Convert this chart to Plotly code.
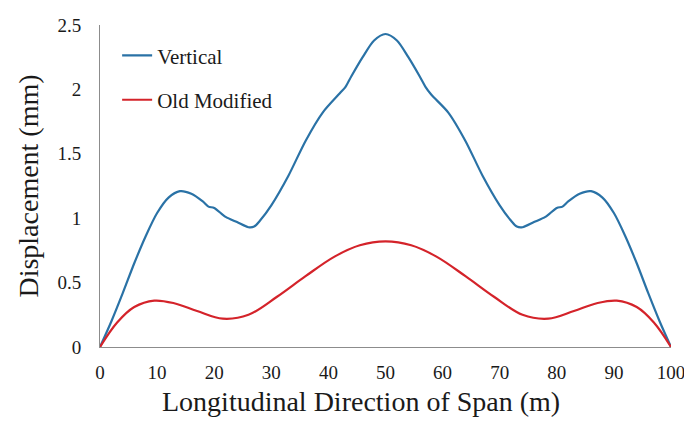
import plotly.graph_objects as go

_BLUE = "#2a72a6"
_RED = "#d4232a"
_AXIS = "#8c8c8c"
_TEXT = "#1a1a1a"
_FONT = "Times New Roman, Liberation Serif, DejaVu Serif, serif"

span = [0, 2, 4, 6, 8, 10, 12, 14, 16, 18, 19, 20, 22, 24, 26, 27, 28, 30, 33, 36, 39, 42, 43,
        44, 46, 48, 50, 52, 54, 56, 57, 58, 61, 64, 67, 70, 72, 73, 74, 76, 78, 80, 81, 82, 84,
        86, 88, 90, 92, 94, 96, 98, 100]
vertical = [0, 0.2, 0.42, 0.65, 0.86, 1.04, 1.16, 1.21, 1.19, 1.13, 1.09, 1.08, 1.01, 0.97, 0.93, 0.935,
            0.98, 1.1, 1.33, 1.6, 1.82, 1.97, 2.02, 2.1, 2.25, 2.38, 2.43, 2.38, 2.25, 2.1,
            2.02, 1.96, 1.82, 1.6, 1.33, 1.1, 0.98, 0.935, 0.93, 0.97, 1.01, 1.08, 1.09, 1.13,
            1.19, 1.21, 1.16, 1.04, 0.86, 0.65, 0.42, 0.2, 0]

red_span = [0, 3, 6, 9.5, 13, 17, 21.5, 26, 31, 36, 41, 45.5, 50, 54.5, 59, 64, 69, 74, 78.5, 83,
            87, 90.5, 94, 97, 100]
old_modified = [0, 0.19, 0.31, 0.36, 0.34, 0.28, 0.22, 0.25, 0.39, 0.55, 0.7, 0.79, 0.82, 0.79,
                0.7, 0.55, 0.39, 0.25, 0.22, 0.28, 0.34, 0.36, 0.31, 0.19, 0]

x_ticks = [0, 10, 20, 30, 40, 50, 60, 70, 80, 90, 100]
y_ticks = [0, 0.5, 1, 1.5, 2, 2.5]
y_tick_text = ["0", "0.5", "1", "1.5", "2", "2.5"]

fig = go.Figure()
fig.add_trace(go.Scatter(x=span, y=vertical, mode="lines", name="Vertical", legendgroup="v",
                         line=dict(color=_BLUE, width=2.2, shape="spline", smoothing=0.8)))
fig.add_trace(go.Scatter(x=red_span, y=old_modified, mode="lines", name="Old Modified", legendgroup="o",
                         line=dict(color=_RED, width=2.2, shape="spline", smoothing=1.0)))

# the page puts the figure 8px in from the top-left corner
fig.update_layout(
    width=684,
    height=424,
    paper_bgcolor="#ffffff",
    plot_bgcolor="#ffffff",
    font=dict(family=_FONT, color=_TEXT, size=18),
    margin=dict(l=92, r=16, t=7, b=85),
    showlegend=True,
    legend=dict(x=0.03, y=0.968, xanchor="left", yanchor="top", bgcolor="rgba(0,0,0,0)",
                font=dict(family=_FONT, size=21), itemwidth=30, tracegroupgap=14),
)
# x title sits a little left of the plot centre in the original, so it is an annotation
fig.add_annotation(
    text="Longitudinal Direction of Span (m)", xref="paper", yref="paper", x=0.457, y=-0.17,
    xanchor="center", yanchor="middle", showarrow=False, font=dict(family=_FONT, size=28, color=_TEXT),
)
fig.update_xaxes(
    range=[0, 100], tickvals=x_ticks, showgrid=False, zeroline=False,
    showline=True, linecolor=_AXIS, linewidth=1, ticks="", ticklabelstandoff=8,
    ticklabeloverflow="allow", tickfont=dict(family=_FONT, size=19),
)
fig.update_yaxes(
    range=[0, 2.5], tickvals=y_ticks, ticktext=y_tick_text, showgrid=False, zeroline=False,
    showline=True, linecolor=_AXIS, linewidth=1, ticks="", ticklabelstandoff=14,
    ticklabeloverflow="allow", tickfont=dict(family=_FONT, size=19),
    title=dict(text="Displacement (mm)", font=dict(family=_FONT, size=28), standoff=10),
)

fig.write_html("out.html")
